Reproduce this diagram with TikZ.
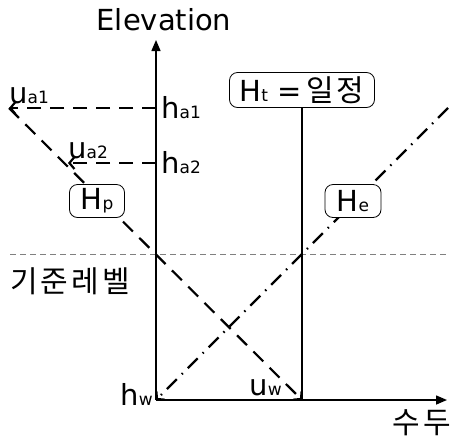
\documentclass[tikz,border=0pt]{standalone}
\usepackage{fontspec}
\setmainfont{DejaVu Sans}
\newfontfamily\kor[LetterSpace=10]{Noto Sans CJK KR}
\usetikzlibrary{arrows.meta}
\newcommand{\lo}[1]{{\fontsize{17}{17}\selectfont #1}}

\begin{document}
\begin{tikzpicture}[
  x=1pt, y=-1pt,
  axis/.style={line width=1.5pt, -{Triangle[length=11pt,width=9pt]}},
  lbl/.style={font=\fontsize{29}{29}\selectfont, inner sep=0pt},
  hangul/.style={font=\kor\fontsize{30}{30}\selectfont, inner sep=0pt},
  tag/.style={draw, fill=white, line width=0.8pt, rounded corners=8pt, inner sep=3pt,
    minimum height=33pt, font=\fontsize{29}{29}\selectfont},
  flow/.style={line width=2.2pt, dash pattern=on 14pt off 9pt,
    -{Straight Barb[length=5pt,width=12pt]}},
  chain/.style={line width=2.2pt, dash pattern=on 14pt off 7pt on 1.5pt off 7pt,
    -{Straight Barb[length=5pt,width=12pt]}},
  datum/.style={gray, line width=0.8pt, dash pattern=on 6pt off 4pt}
]
\useasboundingbox (0,0) rectangle (452,437);

\coordinate (O) at (156,400);
\coordinate (ytop) at (156,40);
\coordinate (xend) at (447,400);
\coordinate (ha1) at (156,108);
\coordinate (ua1) at (9,108);
\coordinate (ha2) at (156,163);
\coordinate (ua2) at (68,163);
\coordinate (uw) at (302,400);
\coordinate (etop) at (448,108);
\coordinate (dl) at (10,254);
\coordinate (dr) at (448,254);

\node[lbl] (elev) at (164,20) {Elevation};
\node[hangul] (head) at (422,423) {수두};
\node[hangul] (datumlbl) at (70,281) {기준레벨};
\node[lbl, anchor=west] (ha1lbl) at (161,108) {h\lo{a1}};
\node[lbl, anchor=west] (ha2lbl) at (161,163) {h\lo{a2}};
\node[lbl, anchor=base west] (ua1lbl) at (9,103) {u\lo{a1}};
\node[lbl, anchor=base west] (ua2lbl) at (68,158) {u\lo{a2}};
\node[lbl, anchor=base east] (hwlbl) at (153,405) {h\lo{w}};
\node[lbl, anchor=base east] (uwlbl) at (282,395) {u\lo{w}};

\draw[datum] (dl) -- (dr);

\draw[axis] (O) -- (ytop);
\draw[axis] (O) -- (xend);

\draw[flow] (ha1) -- (ua1);
\draw[flow] (ha2) -- (ua2);
\draw[flow] (ua1) -- (uw);
\draw[chain] (etop) -- (O);

\node[tag, minimum width=55pt] (Hp) at (97,201) {H\lo{p}};
\node[tag, minimum width=56pt] (He) at (353,201) {H\lo{e}};
\node[tag, minimum width=145pt, minimum height=35pt] (Ht) at (302,90)
  {H\lo{t} =\,{\kor\fontsize{30}{30}\selectfont 일정}};

\draw[line width=2.5pt] (Ht) -- (uw);
\end{tikzpicture}
\end{document}
